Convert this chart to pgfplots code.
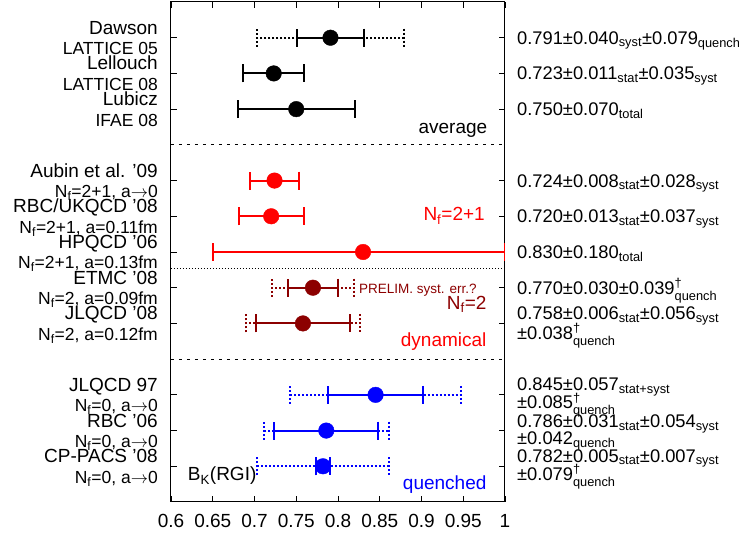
\documentclass[border=0pt]{standalone}
\usepackage{amsmath}
\usepackage{fontspec}
\setmainfont{Liberation Sans}
\usepackage{pgfplots}
\pgfplotsset{compat=1.18}
\definecolor{dred}{rgb}{0.55,0,0}
\newcommand{\fmain}{\fontsize{19}{21}\selectfont}
\newcommand{\fsub}{\fontsize{17.5}{19}\selectfont}
\newcommand{\fann}{\fontsize{18.3}{20}\selectfont}
\newcommand{\qd}{$^{\text{†}}_{\text{quench}}$}
\newcommand{\ra}{$\rightarrow$}
\pgfplotsset{
  errsolid/.style={only marks, mark=*, mark size=7.8pt,
    mark options={solid, fill=#1, draw=#1}, color=#1,
    error bars/.cd, x dir=both, x explicit,
    error bar style={line width=2pt, solid, color=#1},
    error mark options={rotate=90, line width=2pt, mark size=9pt, solid, color=#1}},
  errdot/.style={only marks, mark=none, color=#1,
    error bars/.cd, x dir=both, x explicit,
    error bar style={line width=2pt, dash pattern=on 2pt off 2pt, color=#1},
    error mark options={rotate=90, line width=2pt, mark size=9pt, dash pattern=on 2pt off 2pt, color=#1}},
}
\tikzset{
  lname/.style={anchor=base east, inner sep=0pt, font=\fmain, xshift=-13pt, yshift=3.5pt},
  lsub/.style={anchor=base east, inner sep=0pt, font=\fsub, xshift=-13pt, yshift=-17pt},
  rann/.style={anchor=base west, inner sep=0pt, font=\fann, xshift=12pt, yshift=#1},
  txt/.style={inner sep=0pt, font=\fmain},
}
\begin{document}
\fmain
\begin{tikzpicture}
\useasboundingbox (-171pt,-33pt) rectangle (568pt,502pt);
\begin{axis}[
  scale only axis, width=334pt, height=500pt,
  xmin=0.6, xmax=1, ymin=0, ymax=14,
  xtick={0.6,0.65,0.7,0.75,0.8,0.85,0.9,0.95,1},
  xticklabels={0.6,0.65,0.7,0.75,0.8,0.85,0.9,0.95,1},
  ytick={1,2,3,5,6,7,8,9,11,12,13}, yticklabels={},
  xticklabel style={font=\fmain, yshift=-6pt},
  major tick length=6pt, tick align=inside,
  tick style={black, line width=0.8pt},
  axis line style={line width=1pt},
  clip mode=individual,
]
% separators
\addplot[black, line width=0.8pt, dash pattern=on 3pt off 5pt] coordinates {(0.6,10) (1,10)};
\addplot[black, line width=0.8pt, dash pattern=on 3pt off 5pt] coordinates {(0.6,4) (1,4)};
\addplot[black, line width=0.6pt, dash pattern=on 1pt off 2pt] coordinates {(0.6,6.55) (1,6.55)};

% average (black)
\addplot[errdot=black] coordinates {(0.791,13) +- (0.0886,0)};
\addplot[errsolid=black] coordinates {
  (0.791,13) +- (0.040,0)
  (0.723,12) +- (0.0367,0)
  (0.750,11) +- (0.070,0)};

% Nf=2+1 (red)
\addplot[errsolid=red] coordinates {
  (0.724,9) +- (0.029,0)
  (0.720,8) +- (0.039,0)
  (0.830,7) += (0.170,0) -= (0.180,0)};

% Nf=2 (dark red)
\addplot[errdot=dred] coordinates {
  (0.770,6) +- (0.049,0)
  (0.758,5) +- (0.068,0)};
\addplot[errsolid=dred] coordinates {
  (0.770,6) +- (0.030,0)
  (0.758,5) +- (0.0563,0)};

% quenched (blue)
\addplot[errdot=blue] coordinates {
  (0.845,3) +- (0.102,0)
  (0.786,2) +- (0.0751,0)
  (0.782,1) +- (0.0795,0)};
\addplot[errsolid=blue] coordinates {
  (0.845,3) +- (0.057,0)
  (0.786,2) +- (0.0623,0)
  (0.782,1) +- (0.0086,0)};

% in-axis labels
\node[txt, anchor=base east] at (axis cs:0.979,10.33) {average};
\node[txt, anchor=base east, text=red] at (axis cs:0.976,7.87) {N\textsubscript{f}=2+1};
\node[txt, anchor=base east, text=dred] at (axis cs:0.978,5.40) {N\textsubscript{f}=2};
\node[txt, anchor=base east, text=red] at (axis cs:0.978,4.34) {dynamical};
\node[txt, anchor=base west, font=\fontsize{13.5}{15}\selectfont, text=dred] at (axis cs:0.825,5.85) {PRELIM. syst. err.?};
\node[txt, anchor=base east, text=blue] at (axis cs:0.978,0.34) {quenched};
\node[txt, anchor=base west] at (axis cs:0.620,0.59) {B\textsubscript{K}(RGI)};

% left labels
\node[lname] at (axis cs:0.6,13) {Dawson};
\node[lsub]  at (axis cs:0.6,13) {LATTICE 05};
\node[lname] at (axis cs:0.6,12) {Lellouch};
\node[lsub]  at (axis cs:0.6,12) {LATTICE 08};
\node[lname] at (axis cs:0.6,11) {Lubicz};
\node[lsub]  at (axis cs:0.6,11) {IFAE 08};
\node[lname] at (axis cs:0.6,9) {Aubin et al. '09};
\node[lsub]  at (axis cs:0.6,9) {N\textsubscript{f}=2+1, a\ra0};
\node[lname] at (axis cs:0.6,8) {RBC/UKQCD '08};
\node[lsub]  at (axis cs:0.6,8) {N\textsubscript{f}=2+1, a=0.11fm};
\node[lname] at (axis cs:0.6,7) {HPQCD '06};
\node[lsub]  at (axis cs:0.6,7) {N\textsubscript{f}=2+1, a=0.13fm};
\node[lname] at (axis cs:0.6,6) {ETMC '08};
\node[lsub]  at (axis cs:0.6,6) {N\textsubscript{f}=2, a=0.09fm};
\node[lname] at (axis cs:0.6,5) {JLQCD '08};
\node[lsub]  at (axis cs:0.6,5) {N\textsubscript{f}=2, a=0.12fm};
\node[lname] at (axis cs:0.6,3) {JLQCD 97};
\node[lsub]  at (axis cs:0.6,3) {N\textsubscript{f}=0, a\ra0};
\node[lname] at (axis cs:0.6,2) {RBC '06};
\node[lsub]  at (axis cs:0.6,2) {N\textsubscript{f}=0, a\ra0};
\node[lname] at (axis cs:0.6,1) {CP-PACS '08};
\node[lsub]  at (axis cs:0.6,1) {N\textsubscript{f}=0, a\ra0};

% right annotations
\node[rann=-6.5pt] at (axis cs:1,13) {0.791±0.040\textsubscript{syst}±0.079\textsubscript{quench}};
\node[rann=-6.5pt] at (axis cs:1,12) {0.723±0.011\textsubscript{stat}±0.035\textsubscript{syst}};
\node[rann=-6.5pt] at (axis cs:1,11) {0.750±0.070\textsubscript{total}};
\node[rann=-6.5pt] at (axis cs:1,9) {0.724±0.008\textsubscript{stat}±0.028\textsubscript{syst}};
\node[rann=-6.5pt] at (axis cs:1,8) {0.720±0.013\textsubscript{stat}±0.037\textsubscript{syst}};
\node[rann=-6.5pt] at (axis cs:1,7) {0.830±0.180\textsubscript{total}};
\node[rann=-7pt] at (axis cs:1,6) {0.770±0.030±0.039\qd};
\node[rann=4pt] at (axis cs:1,5) {0.758±0.006\textsubscript{stat}±0.056\textsubscript{syst}};
\node[rann=-16pt] at (axis cs:1,5) {±0.038\qd};
\node[rann=4pt] at (axis cs:1,3) {0.845±0.057\textsubscript{stat+syst}};
\node[rann=-14pt] at (axis cs:1,3) {±0.085\qd};
\node[rann=3pt] at (axis cs:1,2) {0.786±0.031\textsubscript{stat}±0.054\textsubscript{syst}};
\node[rann=-14pt] at (axis cs:1,2) {±0.042\textsubscript{quench}};
\node[rann=4pt] at (axis cs:1,1) {0.782±0.005\textsubscript{stat}±0.007\textsubscript{syst}};
\node[rann=-14pt] at (axis cs:1,1) {±0.079\qd};
\end{axis}
\end{tikzpicture}
\end{document}
